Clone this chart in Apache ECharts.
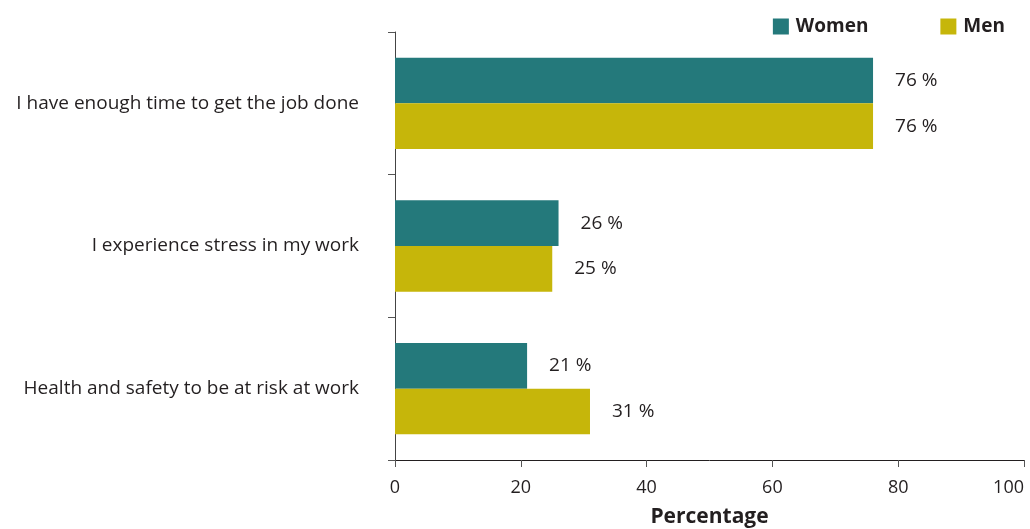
<!DOCTYPE html>
<html>
<head>
<meta charset="utf-8">
<style>
  html, body { margin: 0; padding: 0; background: #fff; }
  #chart { width: 1030px; height: 529px; }
</style>
<script src="https://cdn.jsdelivr.net/npm/echarts@6/dist/echarts.min.js"></script>
</head>
<body>
<div id="chart"></div>
<script>
// Survey statements, top to bottom
const categories = [
  'I have enough time to get the job done',
  'I experience stress in my work',
  'Health and safety to be at risk at work'
];
// Share of respondents agreeing, in percent
const women = [76, 26, 21];
const men = [76, 25, 31];
const xTicks = [0, 20, 40, 60, 80, 100];

const FONT = '"Open Sans", "Noto Sans", sans-serif';
const TEXT = '#231f20';

const chart = echarts.init(document.getElementById('chart'));

const labelStyle = {
  show: true,
  position: 'right',
  distance: 22,
  formatter: p => p.value + ' %',
  fontFamily: FONT,
  fontSize: 19,
  color: TEXT
};

chart.setOption({
  animation: false,
  legend: {
    data: ['Women', 'Men'],
    top: 17,
    right: 25,
    padding: 0,
    itemWidth: 16,
    itemHeight: 16,
    itemGap: 72,
    icon: 'rect',
    textStyle: { fontFamily: FONT, fontSize: 19, fontWeight: 'bold', color: TEXT, padding: [0, 0, 0, 2] }
  },
  grid: { left: 395, right: 6, top: 32, bottom: 69, outerBoundsMode: 'none', containLabel: false },
  xAxis: {
    type: 'value',
    min: xTicks[0],
    max: xTicks[xTicks.length - 1],
    interval: xTicks[1] - xTicks[0],
    name: 'Percentage',
    nameLocation: 'middle',
    nameGap: 47,
    nameTextStyle: { fontFamily: FONT, fontSize: 21, fontWeight: 'bold', color: TEXT },
    axisLine: { show: true, lineStyle: { color: '#231f20', width: 1 } },
    axisTick: { show: true, length: 7, lineStyle: { color: '#555' } },
    axisLabel: { fontFamily: FONT, fontSize: 18, color: TEXT, margin: 19, alignMaxLabel: 'right' },
    splitLine: { show: false }
  },
  yAxis: {
    type: 'category',
    data: categories,
    inverse: true,
    axisLine: { show: true, lineStyle: { color: '#444', width: 1 } },
    axisTick: { show: true, length: 7, lineStyle: { color: '#555' } },
    axisLabel: { fontFamily: FONT, fontSize: 19, color: TEXT, margin: 36 }
  },
  series: [
    {
      name: 'Women',
      type: 'bar',
      data: women,
      barGap: '0%',
      barCategoryGap: '36%',
      itemStyle: { color: '#24797b' },
      label: labelStyle
    },
    {
      name: 'Men',
      type: 'bar',
      data: men,
      barGap: '0%',
      barCategoryGap: '36%',
      itemStyle: { color: '#c6b60a' },
      label: labelStyle
    }
  ]
});
</script>
</body>
</html>
